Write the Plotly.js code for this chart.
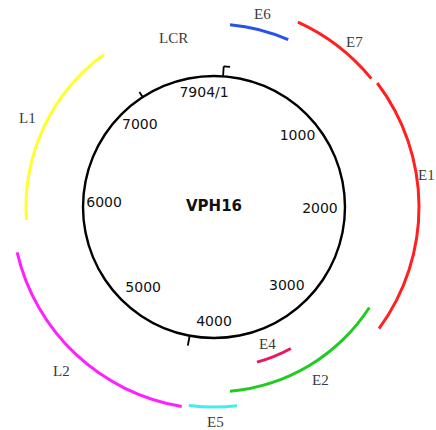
<!DOCTYPE html>
<html>
<head>
<meta charset="utf-8">
<script src="https://cdn.plot.ly/plotly-3.0.1.min.js"></script>
<style>html,body{margin:0;padding:0;background:#fff;}#chart{width:436px;height:430px;}</style>
</head>
<body>
<div id="chart"></div>
<script>
// ---- data (base pairs) ----
const genomeLength = 7904;
const genes = ['E6', 'E7', 'E1', 'E2', 'E4', 'E5', 'L2', 'L1'];
const geneStart = [110, 536, 1159, 2698, 3326, 3807, 4154, 5840];
const geneEnd = [525, 1115, 2775, 3843, 3612, 4110, 5643, 7118];
const tickValues = [0, 1000, 2000, 3000, 4000, 5000, 6000, 7000];
const tickLabels = ['7904/1', '1000', '2000', '3000', '4000', '5000', '6000', '7000'];
const regionLabels = ['LCR', 'E6', 'E7', 'E1', 'E2', 'E4', 'E5', 'L2', 'L1'];
const markPositions = [87, 4187, 7180];
const genomeName = 'VPH16';

// ---- styling / placement (radii in pixels from the centre) ----
const W = 436, H = 430, CX = 214, CY = 207;
const geneColor = {E6:'#2850ee', E7:'#ff2020', E1:'#ff2020', E2:'#20cc20', E4:'#ee1560', E5:'#40eeee', L2:'#ff20ff', L1:'#ffff30'};
const geneTrack = {E6:183, E7:203, E1:205, E2:185, E4:161, E5:200, L2:202, L1:188};
const circleR = 131;
const tickLabelPlace = {
  '7904/1':[355,114], '1000':[50,109], '2000':[91.6,106], '3000':[137.6,108],
  '4000':[180,115], '5000':[221,108], '6000':[272,110], '7000':[317.6,110]
};
const regionLabelPlace = {
  LCR:[346.4,174], E6:[14.2,199], E7:[40.5,217], E1:[81.5,215], E2:[148.5,203],
  E4:[158.5,147], E5:[179.5,215], L2:[222.8,224], L1:[295.5,207]
};
const markLen = [10, 10, 6];

const domainPx = 207;
const rMax = 207;
const px = v => v * rMax / domainPx;
const deg = bp => bp / genomeLength * 360;

const traces = [];
traces.push({
  type:'barpolar', theta:[0], width:[360], base:[px(circleR - 1.2)], r:[px(2.4)],
  marker:{color:'#000', line:{width:0}}, hoverinfo:'skip'
});
traces.push({
  type:'barpolar',
  theta: genes.map((g,i) => deg((geneStart[i] + geneEnd[i]) / 2)),
  width: genes.map((g,i) => deg(geneEnd[i] - geneStart[i])),
  base: genes.map(g => px(geneTrack[g] - 1.5)),
  r: genes.map(() => px(3)),
  marker:{color: genes.map(g => geneColor[g]), line:{width:0}},
  hoverinfo:'skip'
});
const mr = [], mt = [];
markPositions.forEach((p,i) => {
  mr.push(px(circleR), px(circleR + markLen[i]), null);
  mt.push(deg(p), deg(p), null);
});
mr.push(px(circleR + markLen[0]), px(circleR + markLen[0]), null);
mt.push(deg(markPositions[0]), deg(markPositions[0]) + 2.6, null);
traces.push({
  type:'scatterpolar', mode:'lines', r:mr, theta:mt,
  line:{color:'#000', width:1.8}, cliponaxis:false, hoverinfo:'skip'
});
traces.push({
  type:'scatterpolar', mode:'text',
  r: tickLabels.map(t => px(tickLabelPlace[t][1])),
  theta: tickLabels.map(t => tickLabelPlace[t][0]),
  text: tickLabels,
  textfont:{family:'DejaVu Sans', size:14, color:'#111'},
  cliponaxis:false, hoverinfo:'skip'
});
traces.push({
  type:'scatterpolar', mode:'text', r:[0], theta:[0], text:[genomeName],
  textfont:{family:'DejaVu Sans', size:15, color:'#111', weight:'bold'},
  cliponaxis:false, hoverinfo:'skip'
});

// region labels as annotations (some lie outside the polar area)
const annotations = regionLabels.map(t => {
  const [a, r] = regionLabelPlace[t];
  const rad = a * Math.PI / 180;
  return {
    xref:'paper', yref:'paper',
    x: (CX + r * Math.sin(rad)) / W,
    y: 1 - (CY - r * Math.cos(rad)) / H,
    xanchor:'center', yanchor:'middle', showarrow:false, text:t,
    font:{family:'Liberation Serif', size:15, color:'#3a3a3a'}
  };
});

const layout = {
  width:W, height:H,
  margin:{l:0, r:0, t:0, b:0, pad:0},
  paper_bgcolor:'#fff',
  showlegend:false,
  annotations: annotations,
  polar:{
    domain:{x:[(CX - domainPx)/W, (CX + domainPx)/W], y:[1 - (CY + domainPx)/H, 1 - (CY - domainPx)/H]},
    bgcolor:'rgba(0,0,0,0)',
    radialaxis:{range:[0,rMax], visible:false, showgrid:false},
    angularaxis:{direction:'clockwise', rotation:90, visible:false, showgrid:false, thetaunit:'degrees'}
  }
};
Plotly.newPlot('chart', traces, layout, {staticPlot:true, displayModeBar:false});
</script>
</body>
</html>
